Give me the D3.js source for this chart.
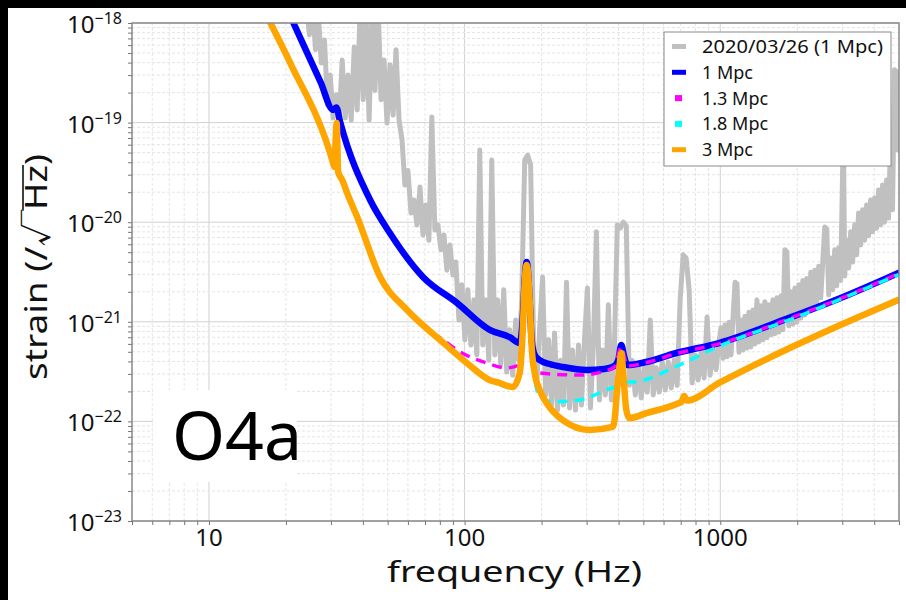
<!DOCTYPE html>
<html>
<head>
<meta charset="utf-8">
<script src="https://cdn.jsdelivr.net/npm/d3@7"></script>
<style>
body { margin: 0; background: #fff; }
svg text { font-family: "Noto Sans", "Noto Sans CJK JP", sans-serif; fill: #111; }
</style>
</head>
<body>
<div id="chart"></div>
<script>
// ---- data (frequency in Hz, strain in 1/sqrt(Hz)) ----
let xDomain = [5, 5000];
let yDomain = [1e-23, 1e-18];
let xTickLabels = [10, 100, 1000];
let yTickExponents = [-18, -19, -20, -21, -22, -23];
let legendLabels = ["2020/03/26 (1 Mpc)", "1 Mpc", "1.3 Mpc", "1.8 Mpc", "3 Mpc"];

let measured = [[24.05,1.5e-18],[24.7,7.6e-19],[25.4,1.5e-18],[26.1,5.4e-19],[26.8,1.2e-18],[27.5,3.96e-19],[28.3,6.75e-19],[29.1,1.5e-19],[29.8,3.0e-19],[30.6,1.11e-19],[31.5,1.9e-19],[32.3,1.06e-19],[33.2,4.25e-19],[34.1,1.11e-19],[35.0,3.0e-19],[36.0,1.06e-19],[37.0,5.74e-19],[38.0,1.34e-19],[39.0,1.5e-18],[40.1,1.7e-19],[41.2,1.2e-18],[42.3,1.06e-19],[43.5,1.5e-18],[44.6,2.1e-19],[45.9,1.5e-18],[47.1,1.7e-19],[48.4,4.25e-19],[49.7,9.9e-20],[51.1,3.8e-19],[52.5,1.19e-19],[53.9,5.4e-19],[55.4,1.06e-19],[56.9,6.7e-20],[58.4,2.36e-20],[60.0,3.3e-20],[61.7,1.24e-20],[63.3,1.67e-20],[65.1,9.4e-21],[66.9,2.26e-20],[68.7,7.45e-21],[70.5,1.49e-20],[72.5,6.6e-21],[74.4,1.14e-19],[76.5,8.35e-21],[78.6,9.4e-21],[80.8,5.3e-21],[83.0,7.45e-21],[85.2,3.3e-21],[87.6,5.9e-21],[90.0,2.95e-21],[92.4,3.98e-21],[95.0,1.04e-21],[97.5,2.35e-21],[100.2,6.6e-22],[102.9,2.1e-21],[105.8,5.85e-22],[108.7,1.66e-21],[111.6,4.65e-22],[114.6,5.3e-20],[117.7,5.85e-22],[120.9,1.66e-21],[124.3,4.1e-22],[127.7,4.2e-20],[131.2,4.65e-22],[134.7,1.66e-21],[138.4,3.7e-22],[142.2,2.1e-21],[146.1,3.13e-22],[150.1,8.3e-22],[154.2,2.9e-22],[158.4,1.04e-21],[162.7,4.1e-22],[167.2,1.66e-21],[171.8,4.2e-20],[176.4,4.7e-20],[181.2,3.75e-20],[186.2,5.2e-22],[191.3,2.3e-22],[196.5,8.3e-22],[201.8,2.82e-21],[207.4,1.84e-22],[213.0,6.6e-22],[218.8,1.46e-22],[224.8,7.7e-22],[230.9,1.3e-22],[237.2,4.1e-22],[243.7,1.46e-22],[250.3,2.5e-21],[257.2,1.36e-22],[264.2,5.2e-22],[271.4,1.3e-22],[278.8,5.85e-22],[286.4,1.46e-22],[294.2,6.6e-22],[302.2,2.18e-21],[310.5,1.36e-22],[318.9,5.85e-22],[327.6,8.0e-21],[336.6,1.64e-22],[345.8,5.2e-22],[355.2,1.84e-22],[364.9,1.48e-21],[374.9,1.64e-22],[385.1,5.2e-22],[395.6,9.4e-21],[406.4,8.7e-21],[417.5,1.0e-20],[428.9,9.2e-21],[440.7,2.3e-22],[452.7,4.1e-22],[465.1,1.84e-22],[477.7,3.7e-22],[490.8,1.72e-22],[504.2,3.45e-22],[518.0,1.97e-22],[532.1,1.04e-21],[546.6,1.84e-22],[561.6,3.45e-22],[577.0,1.97e-22],[592.7,3.95e-22],[608.9,2.07e-22],[625.5,3.95e-22],[642.6,2.16e-22],[660.2,4.1e-22],[678.2,2.3e-22],[696.7,1.66e-21],[715.7,4.7e-21],[735.3,4.37e-21],[755.3,2.1e-21],[775.9,2.43e-22],[797.1,4.65e-22],[818.9,2.6e-22],[841.3,4.95e-22],[864.2,2.73e-22],[887.8,1.12e-21],[912.1,2.9e-22],[937.0,5.45e-22],[962.6,3.3e-22],[988.8,6.3e-22],
    [1006.7,8.7e-22],[1025,4.3e-22],[1043.5,9.3e-22],[1062,4.45e-22],[1082,9.9e-22],[1101,4.65e-22],[1121,1.09e-21],[1142,2.5e-21],[1162,2.4e-21],[1183,4.95e-22],[1205,1.04e-21],[1227,5.2e-22],[1249,1.14e-21],[1272,5.45e-22],[1294,1.25e-21],[1318,5.6e-22],[1342,1.31e-21],[1366,6.0e-22],[1391,1.66e-21],[1416,6.3e-22],[1442,1.45e-21],[1468,6.6e-22],[1494,1.59e-21],[1522,6.9e-22],[1549,1.48e-21],[1578,7.4e-22],[1606,1.66e-21],[1635,7.6e-22],[1665,1.74e-21],[1695,7.9e-22],[1726,1.82e-21],[1757,8.3e-22],[1789,5.3e-21],[1821,5.05e-21],[1854,9.1e-22],[1888,2.0e-21],[1922,9.5e-22],[1957,2.18e-21],[1992,9.9e-22],[2028,2.35e-21],[2065,1.09e-21],[2103,2.6e-21],[2141,1.17e-21],[2180,2.72e-21],[2219,1.31e-21],[2259,3.15e-21],[2300,1.45e-21],[2342,3.3e-21],[2384,1.59e-21],[2427,3.62e-21],[2471,1.74e-21],[2516,3.98e-21],[2562,8.95e-21],[2608,8.55e-21],[2655,1.86e-21],[2704,4.37e-21],[2753,2.1e-21],[2803,5.3e-21],[2853,2.3e-21],[2905,5.55e-21],[2958,2.6e-21],[3012,3.93e-20],[3039,3.7e-20],[3066,2.88e-21],[3122,6.6e-21],[3178,3.47e-21],[3236,8.0e-21],[3294,3.98e-21],[3354,9.4e-21],[3415,4.7e-21],[3475,1.24e-20],[3539,5.9e-21],[3603,1.33e-20],[3668,6.6e-21],[3735,1.49e-20],[3802,7.3e-21],[3871,1.67e-20],[3941,8.0e-21],[4013,1.75e-20],[4085,8.7e-21],[4159,2.1e-20],[4234,9.4e-21],[4311,2.36e-20],[4389,1.0e-20],[4469,2.65e-20],[4550,1.1e-20],[4633,6.7e-20],[4716,1.33e-20],[4802,3.4e-19],[4889,3.25e-19],[4933,5.3e-20]];

let mpc1 = [[19.9,1.5e-18],[21.4,1e-18],[27.3,2.56e-19],[30.6,1.34e-19],[31.5,1.42e-19],[32.6,1.01e-19],[42.7,1.67e-20],[51.0,7.8e-21],[68.7,2.82e-21],[93.3,1.55e-21],[125.4,8.3e-22],[150.1,7.0e-22],[164.2,6.12e-22],[168.6,1.04e-21],[171.8,2.63e-21],[174.9,3.98e-21],[179.6,1.66e-21],[182.9,6.57e-22],[187.9,4.65e-22],[196.5,4.13e-22],[214.9,3.77e-22],[242,3.52e-22],[300,3.28e-22],[352,3.36e-22],[385,3.6e-22],[399,4.13e-22],[410,5.85e-22],[421,4.43e-22],[433,3.68e-22],[513,3.95e-22],[672,4.86e-22],[989,6.12e-22],[1904,1.12e-21],[3176,1.87e-21],[4977,3.09e-21]];

let mpc13 = [[16.2,1.45e-18],[17.4,1e-18],[20.8,3.96e-19],[30.6,3.93e-20],[30.9,3.6e-20],[31.6,9.9e-20],[32.0,3.2e-20],[33.2,2.65e-20],[35.0,1.86e-20],[38.0,1.13e-20],[46.7,2.82e-21],[59.4,1.32e-21],[75,7.6e-22],[80.1,6.9e-22],[95.8,5.0e-22],[122,3.86e-22],[146,3.44e-22],[160,3.6e-22],[168.6,7.7e-22],[174.9,3.7e-21],[182.9,5.6e-22],[190,3.3e-22],[196.5,3.06e-22],[281,2.92e-22],[352,3.2e-22],[385,3.5e-22],[410,5.6e-22],[433,3.6e-22],[514,3.9e-22],[672,4.8e-22],[989,6.0e-22],[1904,1.1e-21],[3176,1.85e-21],[4977,3.05e-21]];

let mpc18 = [[16.2,1.45e-18],[17.4,1e-18],[20.8,3.96e-19],[30.6,3.93e-20],[30.9,3.6e-20],[31.6,9.9e-20],[32.0,3.2e-20],[33.2,2.65e-20],[35.0,1.86e-20],[38.0,1.13e-20],[46.7,2.82e-21],[59.4,1.32e-21],[80,6.6e-22],[102,3.86e-22],[125,2.61e-22],[150,2.2e-22],[164,2.9e-22],[168.6,7.5e-22],[174.9,3.7e-21],[182.9,5.0e-22],[190,2.3e-22],[196.5,1.76e-22],[221,1.57e-22],[281,1.64e-22],[358,2.07e-22],[395,2.3e-22],[410,4.5e-22],[425,2.5e-22],[453,2.49e-22],[690,3.68e-22],[989,5.7e-22],[1904,1.07e-21],[4977,2.98e-21]];

let mpc3 = [[16.2,1.45e-18],[17.4,1e-18],[20.8,3.96e-19],[30.6,3.93e-20],[30.9,3.6e-20],[31.6,9.9e-20],[32.0,3.2e-20],[33.2,2.65e-20],[35.0,1.86e-20],[38.0,1.13e-20],[46.7,2.82e-21],[59.4,1.32e-21],[80,6.6e-22],[102,3.86e-22],[125,2.61e-22],[137.2,2.43e-22],[154.2,2.21e-22],[164.2,3.06e-22],[168.6,7.72e-22],[171.8,2.45e-21],[174.9,3.72e-21],[179.6,1.66e-21],[182.9,5.6e-22],[187.9,3.06e-22],[196.5,2.07e-22],[209.3,1.53e-22],[242,1.03e-22],[308,8.2e-23],[379,8.8e-23],[385.2,1.0e-22],[395.6,2.21e-22],[402.9,3.5e-22],[410.2,4.86e-22],[417.8,2.85e-22],[429.1,1.3e-22],[440.7,1.08e-22],[514,1.21e-22],[690,1.53e-22],[705,1.57e-22],[722,1.8e-22],[740,1.62e-22],[989,2.43e-22],[1905,5.58e-22],[3475,1.12e-21],[4977,1.66e-21]];

// ---- layout ----
let width = 906, height = 600;
let plotLeft = 132, plotRight = 899, plotTop = 23, plotBottom = 521;

let svg = d3.select("#chart").append("svg")
    .attr("width", width)
    .attr("height", height);

svg.append("rect").attr("width", width).attr("height", height).attr("fill", "#fff");
svg.append("rect").attr("width", width).attr("height", 8).attr("fill", "#000");
svg.append("rect").attr("width", 8).attr("height", height).attr("fill", "#000");

let x = d3.scaleLog().domain(xDomain).range([plotLeft, plotRight]);
let y = d3.scaleLog().domain(yDomain).range([plotBottom, plotTop]);

function isDecade(v) {
    let l = Math.log10(v);
    return Math.abs(l - Math.round(l)) < 1e-9;
}

// grid
let xTicks = x.ticks();
let yTicks = y.ticks();

let grid = svg.append("g");
grid.selectAll(".xg").data(xTicks).enter().append("line")
    .attr("x1", d => x(d)).attr("x2", d => x(d))
    .attr("y1", plotTop).attr("y2", plotBottom)
    .attr("stroke", d => isDecade(d) ? "#d2d2d2" : "#e4e4e4")
    .attr("stroke-width", 1)
    .attr("stroke-dasharray", d => isDecade(d) ? null : "3,2");
grid.selectAll(".yg").data(yTicks).enter().append("line")
    .attr("y1", d => y(d)).attr("y2", d => y(d))
    .attr("x1", plotLeft).attr("x2", plotRight)
    .attr("stroke", d => isDecade(d) ? "#d2d2d2" : "#e4e4e4")
    .attr("stroke-width", 1)
    .attr("stroke-dasharray", d => isDecade(d) ? null : "3,2");

// O4a label box
svg.append("rect")
    .attr("x", 153).attr("y", 390).attr("width", 144).attr("height", 92)
    .attr("fill", "#fff");
svg.append("text")
    .attr("x", 172).attr("y", 460)
    .style("font-size", "68px")
    .style("fill", "#000")
    .text("O4a");

// curves
svg.append("clipPath").attr("id", "plot-clip")
    .append("rect")
    .attr("x", plotLeft).attr("y", plotTop)
    .attr("width", plotRight - plotLeft).attr("height", plotBottom - plotTop);

let lineLinear = d3.line().x(d => x(d[0])).y(d => y(d[1]));
let lineSmooth = d3.line().x(d => x(d[0])).y(d => y(d[1])).curve(d3.curveMonotoneX);

let curves = svg.append("g").attr("clip-path", "url(#plot-clip)");

let series = [
    {data: measured, color: "#c0c0c0", width: 5, dash: null, line: lineLinear},
    {data: mpc1, color: "#0000ff", width: 6.5, dash: null, line: lineSmooth},
    {data: mpc13, color: "#ff00ff", width: 3.5, dash: "10,7", line: lineSmooth},
    {data: mpc18, color: "#00ffff", width: 3.5, dash: "10,7", line: lineSmooth},
    {data: mpc3, color: "#ffa500", width: 6.5, dash: null, line: lineSmooth}
];

series.forEach(function(s) {
    curves.append("path")
        .attr("d", s.line(s.data))
        .attr("fill", "none")
        .attr("stroke", s.color)
        .attr("stroke-width", s.width)
        .attr("stroke-linejoin", "round")
        .attr("stroke-linecap", s.dash ? "butt" : "round")
        .attr("stroke-dasharray", s.dash);
});

// frame
svg.append("rect")
    .attr("x", plotLeft).attr("y", plotTop)
    .attr("width", plotRight - plotLeft).attr("height", plotBottom - plotTop)
    .attr("fill", "none")
    .attr("stroke", "#8a8a8a")
    .attr("stroke-width", 1.5);

// axes ticks
let xAxisG = svg.append("g")
    .attr("transform", "translate(0," + plotBottom + ")")
    .call(d3.axisBottom(x).tickValues(xTicks).tickSize(4).tickFormat(""));
xAxisG.select(".domain").remove();
xAxisG.selectAll("line").attr("stroke", "#777");

let yAxisG = svg.append("g")
    .attr("transform", "translate(" + plotLeft + ",0)")
    .call(d3.axisLeft(y).tickValues(yTicks).tickSize(4).tickFormat(""));
yAxisG.select(".domain").remove();
yAxisG.selectAll("line").attr("stroke", "#777");

// tick labels
svg.selectAll(".xlab").data(xTickLabels).enter().append("text")
    .attr("x", d => x(d))
    .attr("y", 546)
    .attr("text-anchor", "middle")
    .style("font-size", "24px")
    .text(d => d);

let yLabels = svg.selectAll(".ylab").data(yTickExponents).enter().append("text")
    .attr("x", 122)
    .attr("y", d => y(Math.pow(10, d)) + 10)
    .attr("text-anchor", "end")
    .style("font-size", "24px");
yLabels.append("tspan").text("10");
yLabels.append("tspan")
    .attr("dy", -9)
    .style("font-size", "16px")
    .text(d => "\u2212" + Math.abs(d));

// axis titles
svg.append("text")
    .attr("x", (387 + 642) / 2)
    .attr("y", 582)
    .attr("text-anchor", "middle")
    .attr("textLength", 255)
    .attr("lengthAdjust", "spacingAndGlyphs")
    .style("font-size", "29px")
    .text("frequency (Hz)");

let yTitle = svg.append("text")
    .attr("transform", "translate(47,267) rotate(-90)")
    .attr("text-anchor", "middle")
    .attr("textLength", 226)
    .attr("lengthAdjust", "spacingAndGlyphs")
    .style("font-size", "30px");
yTitle.append("tspan").text("strain (/");
yTitle.append("tspan").text("\u221A");
yTitle.append("tspan").text("Hz");
yTitle.append("tspan").text(")");

let yt = yTitle.node();
let ovStart = yt.getEndPositionOfChar(9).x - 1;
let ovEnd = yt.getEndPositionOfChar(11).x;
svg.append("line")
    .attr("transform", "translate(47,267) rotate(-90)")
    .attr("x1", ovStart).attr("x2", ovEnd)
    .attr("y1", -24).attr("y2", -24)
    .attr("stroke", "#111")
    .attr("stroke-width", 1.6);

// legend
let legendColors = ["#c0c0c0", "#0000ff", "#ff00ff", "#00ffff", "#ffa500"];
let legendMarker = ["bar", "bar", "square", "square", "bar"];

svg.append("rect")
    .attr("x", 664).attr("y", 32).attr("width", 227).attr("height", 134)
    .attr("fill", "#fff")
    .attr("stroke", "#8a8a8a")
    .attr("stroke-width", 1);

let legendG = svg.selectAll(".legend")
    .data(legendLabels)
    .enter().append("g")
    .attr("class", "legend")
    .attr("transform", (d, i) => "translate(0," + (46.5 + i * 25.8) + ")");

legendG.append("rect")
    .attr("x", (d, i) => legendMarker[i] === "bar" ? 672 : 675)
    .attr("y", (d, i) => legendMarker[i] === "bar" ? -2.5 : -3)
    .attr("width", (d, i) => legendMarker[i] === "bar" ? 14 : 7)
    .attr("height", (d, i) => legendMarker[i] === "bar" ? 5 : 6)
    .attr("fill", (d, i) => legendColors[i]);

legendG.append("text")
    .attr("x", 702)
    .attr("y", 6.5)
    .style("font-size", "18px")
    .attr("textLength", (d, i) => i === 0 ? 181 : null)
    .attr("lengthAdjust", "spacingAndGlyphs")
    .text(d => d);
</script>
</body>
</html>
